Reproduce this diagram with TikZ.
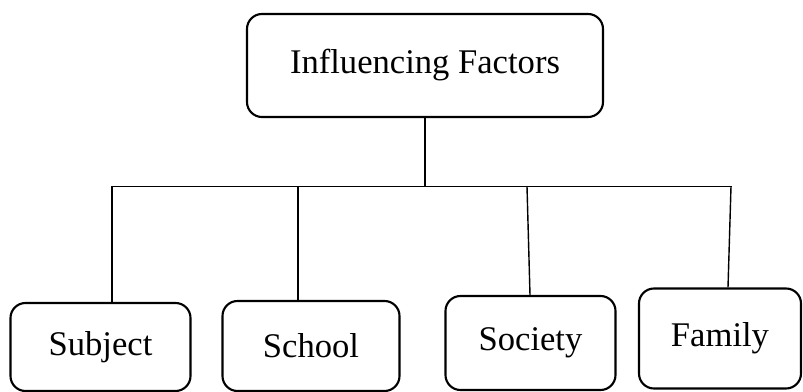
\documentclass[tikz,border=0pt]{standalone}
\usepackage{fontspec}
\setmainfont{Liberation Serif}
\begin{document}
\begin{tikzpicture}[x=0.025cm,y=-0.025cm,
        box/.style={draw,line width=1.5pt,rounded corners=15*0.025cm,inner sep=0pt,
            font=\fontsize{24.6}{29}\selectfont},
        link/.style={line width=1pt}]
        \useasboundingbox (0,0) rectangle (803,392);
        % fattore principale
        \node[box,minimum width=356*0.025cm,minimum height=103*0.025cm] (factors) at (425,65.5) {Influencing Factors};
        % fattori (riga in basso)
        \node[box,minimum width=180*0.025cm,minimum height=88*0.025cm] (subject) at (100.5,347) {Subject};
        \node[box,minimum width=177*0.025cm,minimum height=90*0.025cm] (school) at (311,346) {School};
        \node[box,minimum width=170*0.025cm,minimum height=94*0.025cm] (society) at (530.5,343) {Society};
        \node[box,minimum width=162*0.025cm,minimum height=100*0.025cm] (family) at (720,338.5) {Family};
        % barra orizzontale
        \coordinate (barL) at (112,186.5);
        \coordinate (barR) at (732,186.5);
        \coordinate (hub) at (factors.south |- barL);
        \coordinate (jSchool) at (298,186.5);
        \coordinate (jSociety) at (527,186.5);
        \coordinate (jFamily) at (731,186.5);
        \draw[link,line width=1.5pt] (factors.south) -- (hub);
        \draw[link] (barL) -- (barR);
        % collegamenti verso i riquadri
        \draw[link] (barL) -- (barL |- subject.north);
        \draw[link] (jSchool) -- (jSchool |- school.north);
        \draw[link] (jSociety) -- ([xshift=3*0.025cm]jSociety |- society.north);
        \draw[link] (jFamily) -- ([xshift=-3*0.025cm]jFamily |- family.north);
    \end{tikzpicture}
\end{document}
